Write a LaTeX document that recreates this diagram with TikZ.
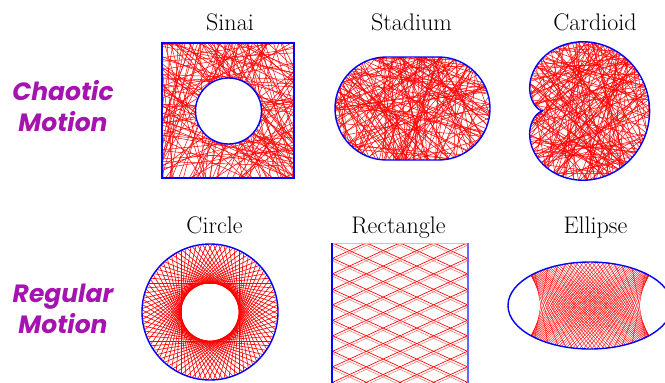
\documentclass[tikz,border=0pt]{standalone}
\usepackage{fontspec}
\newfontfamily\motionfont{Poppins}
\usetikzlibrary{positioning}
\definecolor{wallC}{RGB}{0,0,255}
\definecolor{trajC}{RGB}{255,0,0}
\definecolor{motionC}{RGB}{165,20,175}
\tikzset{
  wallline/.style={draw=wallC, line width=1.4pt},
  trajline/.style={draw=trajC, line width=0.5pt},
  billname/.style={font=\fontsize{24}{28}\selectfont, inner sep=0pt, anchor=base},
  motion/.style={font=\motionfont\bfseries\itshape\fontsize{25}{31}\selectfont, text=motionC,
                 align=center, inner sep=0pt},
}

\begin{document}
\begin{tikzpicture}[x=1pt, y=-1pt]
    \useasboundingbox (0,0) rectangle (665,383);
    \pgfmathsetseed{11}

    \node[motion] (chaotic) at (63,106) {Chaotic\\Motion};
    \node[motion] (regular) at (63,309) {Regular\\Motion};

    \node[billname] (sinai) at (230,30) {Sinai};
    \node[billname] (stadium) at (411.5,30) {Stadium};
    \node[billname] (cardioid) at (595,30) {Cardioid};
    \node[billname] (circle) at (214.5,233) {Circle};
    \node[billname] (rectangle) at (398.5,233) {Rectangle};
    \node[billname] (ellipse) at (595.5,233) {Ellipse};

    % Sinai
    \begin{scope}
      \clip (162,43) rectangle (294,178);
      \foreach \k in {1,...,140}{
        \pgfmathsetmacro{\px}{162+132*rnd}
        \pgfmathsetmacro{\py}{43+135*rnd}
        \pgfmathsetmacro{\ang}{360*rnd}
        \draw[trajline] (\px,\py) ++(\ang:250) -- ++(\ang+180:500);
      }
    \end{scope}
    \fill[white] (228.5,111) circle (33);
    \draw[wallline] (228.5,111) circle (33);
    \draw[wallline] (162,43) rectangle (294,178);

    % Stadium
    \begin{scope}
      \clip[rounded corners=51.5pt] (335,57) rectangle (490,160);
      \foreach \k in {1,...,160}{
        \pgfmathsetmacro{\px}{335+155*rnd}
        \pgfmathsetmacro{\py}{57+103*rnd}
        \pgfmathsetmacro{\ang}{360*rnd}
        \draw[trajline] (\px,\py) ++(\ang:250) -- ++(\ang+180:500);
      }
    \end{scope}
    \draw[wallline, rounded corners=51.5pt] (335,57) rectangle (490,160);

    % Cardioid
    \begin{scope}
      \clip plot[domain=0:360, samples=181] ({543+53.3*(1+cos(\x))*cos(\x)}, {111+53.3*(1+cos(\x))*sin(\x)});
      \foreach \k in {1,...,160}{
        \pgfmathsetmacro{\px}{530+120*rnd}
        \pgfmathsetmacro{\py}{42+138*rnd}
        \pgfmathsetmacro{\ang}{360*rnd}
        \draw[trajline] (\px,\py) ++(\ang:250) -- ++(\ang+180:500);
      }
    \end{scope}
    \draw[wallline] plot[domain=0:360, samples=181] ({543+53.3*(1+cos(\x))*cos(\x)}, {111+53.3*(1+cos(\x))*sin(\x)}) -- cycle;

    % Circle
    \begin{scope}[shift={(210,312)}]
      \foreach \k in {0,...,79}
        \draw[trajline, line width=0.65pt] (\k*4.5-64.76:68) -- (\k*4.5+64.76:68);
      \draw[wallline] (0,0) circle (68);
    \end{scope}

    % Rectangle
    \begin{scope}
      \clip (332,243) rectangle (468,390);
      \foreach \c in {165,180.5,...,400}{
        \draw[trajline, line width=0.65pt] (332,\c) -- (468,\c+62.6);
        \draw[trajline, draw=trajC!55] (332,\c+2.5) -- (468,\c+65.1);
        \draw[trajline, line width=0.65pt] (332,\c+62.6) -- (468,\c);
        \draw[trajline, draw=trajC!55] (332,\c+65.1) -- (468,\c+2.5);
      }
    \end{scope}
    \draw[wallC!25, line width=1pt] (332,243) -- (468,243);
    \draw[wallline] (332,243) -- (332,390);
    \draw[wallline, draw=wallC!60] (468,243) -- (468,390);

    % Ellipse
    \begin{scope}[shift={(590,305.5)}, x=82pt, y=-82pt]
      \foreach \s in {1,-1}
        \foreach \xa in {-0.6,-0.57,...,0.601}{
          \pgfmathsetmacro{\mm}{\s*sqrt(0.3465/(0.3721-\xa*\xa))}
          \pgfmathsetmacro{\qa}{1+\mm*\mm/0.2814}
          \pgfmathsetmacro{\sq}{sqrt(\xa*\xa-\qa*(\xa*\xa-1))}
          \pgfmathsetmacro{\ta}{(-\xa+\sq)/\qa}
          \pgfmathsetmacro{\tb}{(-\xa-\sq)/\qa}
          \draw[trajline, line width=0.4pt] (\xa+\ta,\mm*\ta) -- (\xa+\tb,\mm*\tb);
        }
      \draw[wallline] (0,0) ellipse [x radius=1, y radius=0.5305];
    \end{scope}
  \end{tikzpicture}
\end{document}
